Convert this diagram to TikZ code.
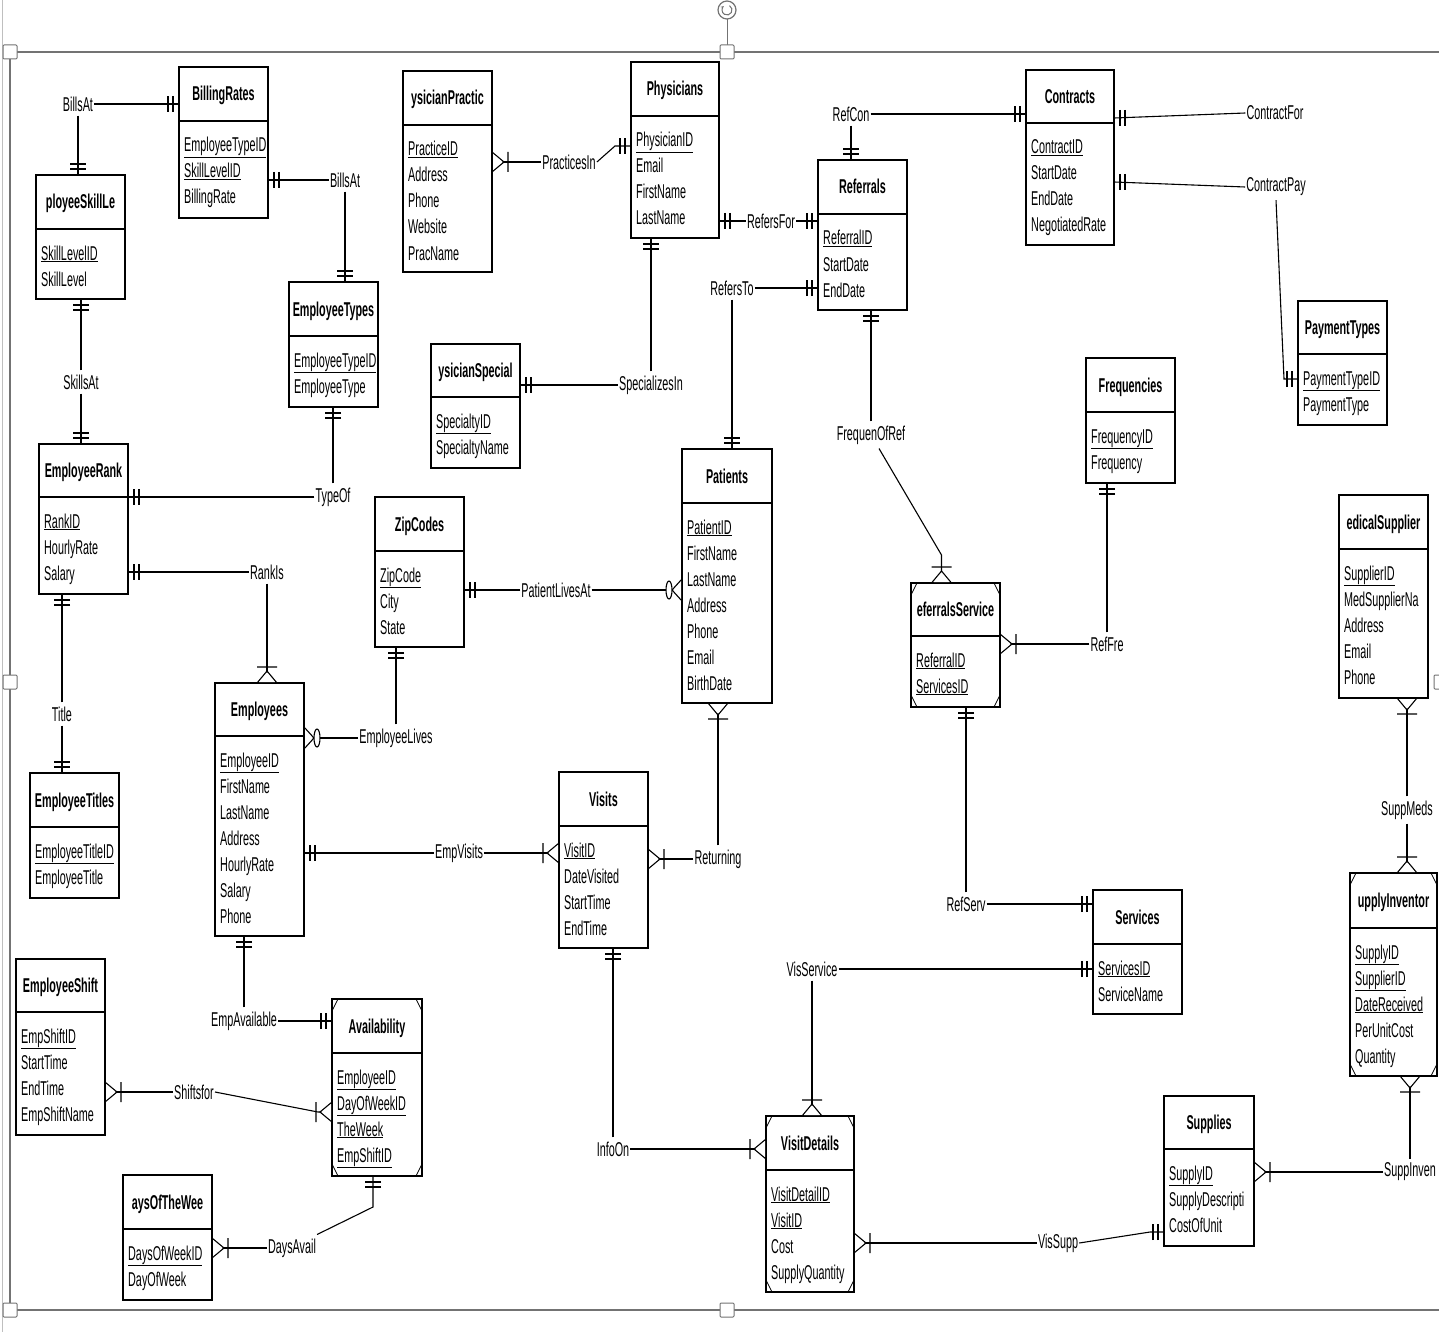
\documentclass[tikz,border=0pt]{standalone}
\usepackage{fontspec}
\setmainfont{Liberation Sans}[FakeStretch=0.54]
\usetikzlibrary{arrows.meta}
\newcommand\pk[1]{\underline{#1}}
\tikzset{
  ebox/.style={draw=black, line width=1.4pt, rectangle, inner sep=0pt, outer sep=0pt, fill=white},
  ediv/.style={line width=1.4pt},
  etitle/.style={font=\fontsize{20}{26}\selectfont\bfseries, inner sep=0pt, anchor=base},
  eattr/.style={font=\fontsize{20}{26}\selectfont, inner sep=0pt, anchor=base west},
  rlab/.style={font=\fontsize{20}{26}\selectfont, inner xsep=1pt, inner ysep=4pt},
  conn/.style={line width=1.1pt, black},
  cornm/.style={line width=0.8pt},
  framec/.style={draw=black!55},
  mand/.pic={\draw[conn] (6,-8) -- (6,8) (11,-8) -- (11,8);},
  onemany/.pic={\fill[white] (1,-8) -- (11,0) -- (1,8) -- cycle;
                \draw[conn] (0,-10) -- (12,0) -- (0,10) (16,-10) -- (16,10);},
  zeromany/.pic={\fill[white] (1,-9) -- (9,0) -- (1,9) -- cycle;
                 \draw[conn] (0,-11) -- (10,0) -- (0,11);
                 \draw[conn, fill=white] (13,0) ellipse [x radius=3, y radius=9];}
}
\newcommand\entity[8]{%
  \pgfmathsetmacro\ew{#4-#2}%
  \pgfmathsetmacro\eh{#5-#3}%
  \node[ebox, minimum width=\ew pt, minimum height=\eh pt, anchor=north west] (#1) at (#2,#3) {};
  \draw[ediv] (#2,#6) -- (#4,#6);
  \node[etitle] (#1-t) at ({(#2+#4)/2},{(#3+#6)/2+7}) {#7};
  \foreach \attr [count=\ii] in {#8} {\node[eattr] (#1-a\ii) at (#2+5,#6+5+26*\ii) {\attr};}
}
\newcommand\corners[1]{%
  \draw[cornm] ([yshift=-12pt]#1.north west) -- ([xshift=6pt]#1.north west)
    ([yshift=-12pt]#1.north east) -- ([xshift=-6pt]#1.north east)
    ([yshift=12pt]#1.south west) -- ([xshift=6pt]#1.south west)
    ([yshift=12pt]#1.south east) -- ([xshift=-6pt]#1.south east);}
\newcommand\link[4]{\draw[conn] #1 -- #2 coordinate (k); \pic[rotate=#3] at (k) {#4};}
\begin{document}
\begin{tikzpicture}[x=1pt, y=-1pt]
\useasboundingbox (0,0) rectangle (1439,1332);
\clip (0,0) rectangle (1439,1332);
\fill[white] (0,0) rectangle (1439,1332);
% window frame
\draw[black!25, line width=1pt] (2.5,0) -- (2.5,1332);
\draw[framec, line width=2pt] (1440,52) -- (10,52) -- (10,1310) -- (1440,1310);
\draw[framec, line width=1pt] (727,19) -- (727,45);
\draw[framec, line width=1.2pt, fill=white] (727,10) circle (9);
\draw[framec, line width=1pt, -{Stealth[length=3pt,width=3pt]}] (727,10) ++(-60:5) arc[start angle=-60, end angle=230, radius=5];
\foreach \hx/\hy in {10/52,727/52,10/682,10/1310,727/1310,1441/682}
  \draw[framec, fill=white, line width=1pt, rounded corners=1pt] (\hx-7,\hy-7) rectangle (\hx+7,\hy+7);

% entities
\entity{br}{179}{67}{268}{218}{121}{BillingRates}{\pk{EmployeeTypeID},\pk{SkillLevelID},BillingRate}
\entity{esl}{36}{175}{125}{299}{229}{ployeeSkillLe}{\pk{SkillLevelID},SkillLevel}
\entity{pp}{403}{71}{492}{272}{125}{ysicianPractic}{\pk{PracticeID},Address,Phone,Website,PracName}
\entity{phys}{631}{62}{719}{238}{116}{Physicians}{\pk{PhysicianID},Email,FirstName,LastName}
\entity{ref}{818}{160}{907}{310}{214}{Referrals}{\pk{ReferralID},StartDate,EndDate}
\entity{con}{1026}{70}{1114}{245}{123}{Contracts}{\pk{ContractID},StartDate,EndDate,NegotiatedRate}
\entity{pt}{1298}{301}{1387}{425}{354}{PaymentTypes}{\pk{PaymentTypeID},PaymentType}
\entity{et}{289}{282}{378}{407}{336}{EmployeeTypes}{\pk{EmployeeTypeID},EmployeeType}
\entity{ps}{431}{344}{520}{468}{397}{ysicianSpecial}{\pk{SpecialtyID},SpecialtyName}
\entity{er}{39}{444}{128}{594}{497}{EmployeeRank}{\pk{RankID},HourlyRate,Salary}
\entity{zip}{375}{497}{464}{647}{551}{ZipCodes}{\pk{ZipCode},City,State}
\entity{pat}{682}{449}{772}{703}{503}{Patients}{\pk{PatientID},FirstName,LastName,Address,Phone,Email,BirthDate}
\entity{freq}{1086}{358}{1175}{483}{412}{Frequencies}{\pk{FrequencyID},Frequency}
\entity{rs}{911}{583}{1000}{707}{636}{eferralsService}{\pk{ReferralID},\pk{ServicesID}}
\corners{rs}
\entity{ms}{1339}{495}{1428}{698}{549}{edicalSupplier}{\pk{SupplierID},MedSupplierNa,Address,Email,Phone}
\entity{etl}{30}{773}{119}{898}{827}{EmployeeTitles}{\pk{EmployeeTitleID},EmployeeTitle}
\entity{emp}{215}{683}{304}{936}{736}{Employees}{\pk{EmployeeID},FirstName,LastName,Address,HourlyRate,Salary,Phone}
\entity{vis}{559}{772}{648}{948}{826}{Visits}{\pk{VisitID},DateVisited,StartTime,EndTime}
\entity{svc}{1093}{890}{1182}{1014}{944}{Services}{\pk{ServicesID},ServiceName}
\entity{sinv}{1350}{873}{1437}{1076}{928}{upplyInventor}{\pk{SupplyID},\pk{SupplierID},\pk{DateReceived},PerUnitCost,Quantity}
\corners{sinv}
\entity{es}{16}{959}{105}{1135}{1012}{EmployeeShift}{\pk{EmpShiftID},StartTime,EndTime,EmpShiftName}
\entity{av}{332}{999}{422}{1176}{1053}{Availability}{\pk{EmployeeID},\pk{DayOfWeekID},\pk{TheWeek},\pk{EmpShiftID}}
\corners{av}
\entity{dw}{123}{1175}{212}{1300}{1229}{aysOfTheWee}{\pk{DaysOfWeekID},DayOfWeek}
\entity{vd}{766}{1116}{854}{1292}{1170}{VisitDetails}{\pk{VisitDetailID},\pk{VisitID},Cost,SupplyQuantity}
\corners{vd}
\entity{sup}{1164}{1096}{1254}{1246}{1149}{Supplies}{\pk{SupplyID},SupplyDescripti,CostOfUnit}

% relationship labels
\node[rlab] (rBillsAt1) at (78,104) {BillsAt};
\node[rlab] (rBillsAt2) at (345,180) {BillsAt};
\node[rlab] (rSkillsAt) at (81,382) {SkillsAt};
\node[rlab] (rTypeOf) at (333,497) {TypeOf};
\node[rlab] (rRankIs) at (267,572) {RankIs};
\node[rlab] (rTitle) at (62,714) {Title};
\node[rlab] (rPracticesIn) at (569,162) {PracticesIn};
\node[rlab] (rRefersFor) at (771,221) {RefersFor};
\node[rlab] (rRefersTo) at (732,288) {RefersTo};
\node[rlab] (rSpecializesIn) at (651,385) {SpecializesIn};
\node[rlab] (rRefCon) at (851,114) {RefCon};
\node[rlab] (rContractFor) at (1275,113) {ContractFor};
\node[rlab] (rContractPay) at (1276,187) {ContractPay};
\node[rlab] (rFrequenOfRef) at (871,435) {FrequenOfRef};
\node[rlab] (rRefFre) at (1107,644) {RefFre};
\node[rlab] (rRefServ) at (966,904) {RefServ};
\node[rlab] (rSuppMeds) at (1407,810) {SuppMeds};
\node[rlab] (rPatientLivesAt) at (556,590) {PatientLivesAt};
\node[rlab] (rEmployeeLives) at (396,738) {EmployeeLives};
\node[rlab] (rEmpVisits) at (459,853) {EmpVisits};
\node[rlab] (rReturning) at (718,859) {Returning};
\node[rlab] (rInfoOn) at (613,1149) {InfoOn};
\node[rlab] (rVisService) at (812,969) {VisService};
\node[rlab] (rVisSupp) at (1058,1243) {VisSupp};
\node[rlab] (rSuppInven) at (1410,1172) {SuppInven};
\node[rlab] (rEmpAvailable) at (244,1021) {EmpAvailable};
\node[rlab] (rShiftsfor) at (194,1092) {Shiftsfor};
\node[rlab] (rDaysAvail) at (292,1248) {DaysAvail};

% connectors
\link{(rBillsAt1.east)}{(rBillsAt1.east -| br.west)}{180}{mand}
\link{(rBillsAt1.south)}{(rBillsAt1.south |- esl.north)}{90}{mand}
\link{(rBillsAt2.west)}{(rBillsAt2.west -| br.east)}{0}{mand}
\link{(rBillsAt2.south)}{(rBillsAt2.south |- et.north)}{90}{mand}
\link{(rSkillsAt.north)}{(rSkillsAt.north |- esl.south)}{-90}{mand}
\link{(rSkillsAt.south)}{(rSkillsAt.south |- er.north)}{90}{mand}
\link{(rTypeOf.north)}{(rTypeOf.north |- et.south)}{-90}{mand}
\link{(rTypeOf.west)}{(rTypeOf.west -| er.east)}{0}{mand}
\link{(rRankIs.west)}{(rRankIs.west -| er.east)}{0}{mand}
\link{(rRankIs.south)}{(rRankIs.south |- emp.north)}{90}{onemany}
\link{(rTitle.north)}{(rTitle.north |- er.south)}{-90}{mand}
\link{(rTitle.south)}{(rTitle.south |- etl.north)}{90}{mand}
\link{(rPracticesIn.east) -- ([xshift=-16pt]phys.west |- 0,146)}{(phys.west |- 0,146)}{180}{mand}
\link{(rPracticesIn.west)}{(rPracticesIn.west -| pp.east)}{0}{onemany}
\link{(rRefersFor.west)}{(rRefersFor.west -| phys.east)}{0}{mand}
\link{(rRefersFor.east)}{(rRefersFor.east -| ref.west)}{180}{mand}
\link{(rRefersTo.east)}{(rRefersTo.east -| ref.west)}{180}{mand}
\link{(rRefersTo.south)}{(rRefersTo.south |- pat.north)}{90}{mand}
\link{(rSpecializesIn.north)}{(rSpecializesIn.north |- phys.south)}{-90}{mand}
\link{(rSpecializesIn.west)}{(rSpecializesIn.west -| ps.east)}{0}{mand}
\link{(rRefCon.east)}{(rRefCon.east -| con.west)}{180}{mand}
\link{(rRefCon.south)}{(rRefCon.south |- ref.north)}{90}{mand}
\link{(rContractFor.west)}{(con.east |- 0,118)}{0}{mand}
\link{(rContractPay.west)}{(con.east |- 0,182)}{0}{mand}
\link{(rContractPay.south) -- ([xshift=-14pt]pt.west |- 0,379)}{(pt.west |- 0,379)}{180}{mand}
\link{(rFrequenOfRef.north)}{(rFrequenOfRef.north |- ref.south)}{-90}{mand}
\link{([xshift=8pt]rFrequenOfRef.south) -- ([xshift=-14pt,yshift=28pt]rs.north)}{([xshift=-14pt]rs.north)}{90}{onemany}
\link{(rRefFre.north)}{(rRefFre.north |- freq.south)}{-90}{mand}
\link{(rRefFre.west)}{(rRefFre.west -| rs.east)}{0}{onemany}
\link{(rRefServ.north)}{(rRefServ.north |- rs.south)}{-90}{mand}
\link{(rRefServ.east)}{(rRefServ.east -| svc.west)}{180}{mand}
\link{(rSuppMeds.north)}{(rSuppMeds.north |- ms.south)}{-90}{onemany}
\link{(rSuppMeds.south)}{(rSuppMeds.south |- sinv.north)}{90}{onemany}
\link{(rPatientLivesAt.west)}{(rPatientLivesAt.west -| zip.east)}{0}{mand}
\link{(rPatientLivesAt.east)}{(rPatientLivesAt.east -| pat.west)}{180}{zeromany}
\link{(rEmployeeLives.north)}{(rEmployeeLives.north |- zip.south)}{-90}{mand}
\link{(rEmployeeLives.west)}{(rEmployeeLives.west -| emp.east)}{0}{zeromany}
\link{(rEmpVisits.west)}{(rEmpVisits.west -| emp.east)}{0}{mand}
\link{(rEmpVisits.east)}{(rEmpVisits.east -| vis.west)}{180}{onemany}
\link{(rReturning.north)}{(rReturning.north |- pat.south)}{-90}{onemany}
\link{(rReturning.west)}{(rReturning.west -| vis.east)}{0}{onemany}
\link{(rInfoOn.north)}{(rInfoOn.north |- vis.south)}{-90}{mand}
\link{(rInfoOn.east)}{(rInfoOn.east -| vd.west)}{180}{onemany}
\link{(rVisService.east)}{(rVisService.east -| svc.west)}{180}{mand}
\link{(rVisService.south)}{(rVisService.south |- vd.north)}{90}{onemany}
\link{(rVisSupp.west)}{(rVisSupp.west -| vd.east)}{0}{onemany}
\link{(rVisSupp.east) -- ([xshift=-14pt]sup.west |- 0,1232)}{(sup.west |- 0,1232)}{180}{mand}
\link{(rSuppInven.west)}{(rSuppInven.west -| sup.east)}{0}{onemany}
\link{(rSuppInven.north)}{(rSuppInven.north |- sinv.south)}{-90}{onemany}
\link{(rEmpAvailable.north)}{(rEmpAvailable.north |- emp.south)}{-90}{mand}
\link{(rEmpAvailable.east)}{(rEmpAvailable.east -| av.west)}{180}{mand}
\link{(rShiftsfor.west)}{(rShiftsfor.west -| es.east)}{0}{onemany}
\link{(rShiftsfor.east) -- ([xshift=-14pt]av.west |- 0,1112)}{(av.west |- 0,1112)}{180}{onemany}
\link{(rDaysAvail.west)}{(rDaysAvail.west -| dw.east)}{0}{onemany}
\link{(rDaysAvail.north east) -- ([xshift=-4pt,yshift=-31pt]av.south)}{([xshift=-4pt]av.south)}{-90}{mand}
\end{tikzpicture}
\end{document}
